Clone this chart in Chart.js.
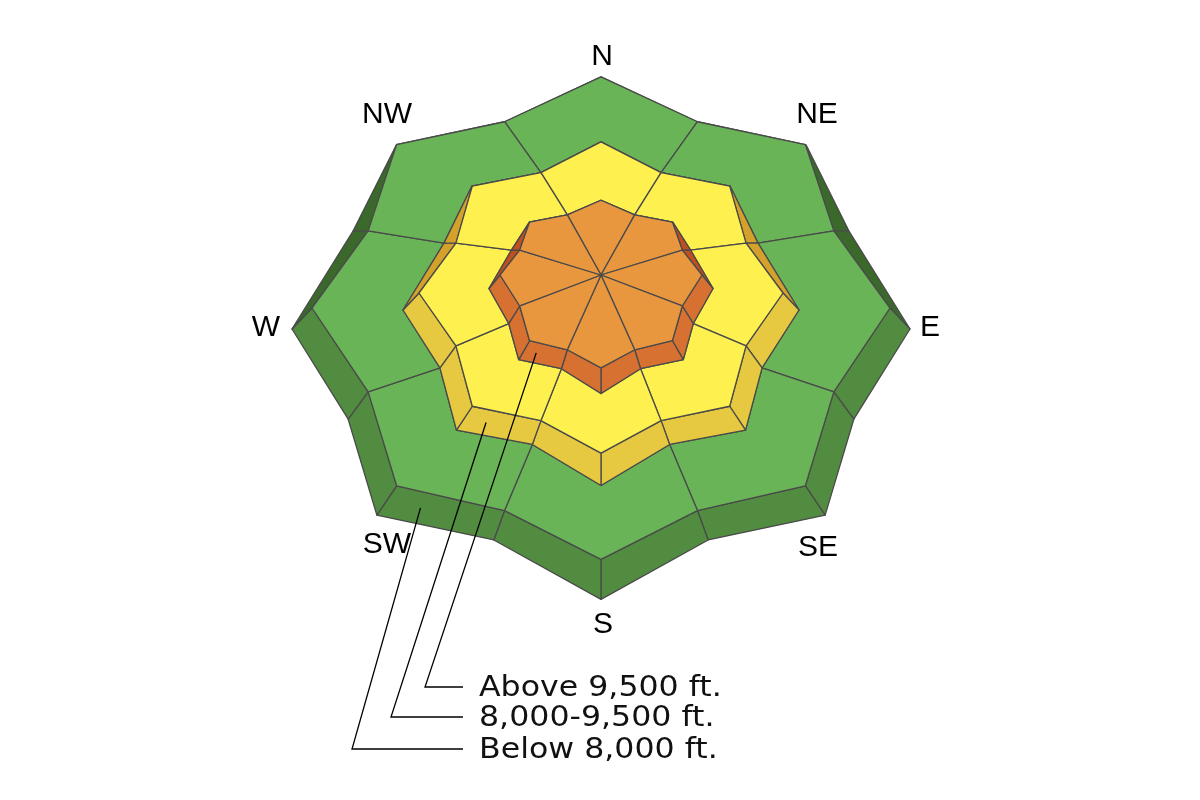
<!DOCTYPE html>
<html>
<head>
<meta charset="utf-8">
<script src="https://cdn.jsdelivr.net/npm/chart.js@4.4.1/dist/chart.umd.min.js"></script>
<style>
  html, body { margin: 0; padding: 0; background: #fff; }
  canvas { display: block; }
</style>
</head>
<body>
<canvas id="rose" width="1200" height="800"></canvas>
<script>
// --- Data ---
const directions = ["N", "NE", "E", "SE", "S", "SW", "W", "NW"];
const bands = ["Below 8,000 ft.", "8,000-9,500 ft.", "Above 9,500 ft."];
const legendOrder = [2, 1, 0]; // callout rows, top to bottom

// --- Look ---
const bandColors = [
  { top: "#69b457", side: "#518c40", dark: "#3a692b" },
  { top: "#fdf04f", side: "#e6c941", dark: "#d4a22b" },
  { top: "#e9973f", side: "#d67131", dark: "#c04f1f" }
];
const edgeColor = "#4a4a4a";

// top face of each band (star: tips R, notches r) and how its wall drops
const layers = [
  { cx: 601, cy: 308, R: 289, r: 252, up: 0.80, down: 0.87, wall: 20, drop: 21 },
  { cx: 601, cy: 293, R: 182, r: 157, up: 0.83, down: 0.88, wall: 16, drop: 17 },
  { cx: 601, cy: 275, R: 101, r: 88,  up: 0.74, down: 0.92, wall: 11, drop: 13.5 }
];

const labelPos = {
  N: [602, 57], NE: [817, 115], E: [930, 328], SE: [818, 548],
  S: [603, 625], SW: [387, 545], W: [266, 328], NW: [387, 115]
};
const callout = { elbowX: [352, 391, 425], rowY: [749, 717, 687], lineEnd: 463, textX: 479 };

const clamp = (v, a, b) => Math.max(a, Math.min(b, v));
const lerp = (p, q, t) => ({ x: p.x + (q.x - p.x) * t, y: p.y + (q.y - p.y) * t });

function topRing(L) {
  const pts = [];
  for (let k = 0; k < 16; k++) {
    const a = k * Math.PI / 8;
    const rho = k % 2 ? L.r : L.R;
    const c = Math.cos(a), s = Math.sin(a);
    pts.push({ x: L.cx + rho * s, y: L.cy - rho * c * (c > 0 ? L.up : L.down) });
  }
  return pts;
}

function baseRing(L, top) {
  return top.map((p, k) => {
    const a = k * Math.PI / 8;
    const c = Math.cos(a), s = Math.sin(a);
    const u = clamp((0.72 - c) / 0.45, 0, 1);
    const dx = L.wall * Math.sign(s) * Math.min(1, 1.4 * Math.abs(s)) * u;
    let dy;
    if (c >= 0) {
      dy = L.drop * clamp(1 - c / 0.383, 0, 1);
    } else {
      const t = (Math.acos(c) * 180 / Math.PI - 90) / 90;
      dy = L.drop * (1 + 0.4 * Math.min(1, 3 * t) + 0.5 * Math.max(0, 4 * t - 3));
    }
    return { x: p.x + dx, y: p.y + dy };
  });
}

function poly(points, color) {
  return {
    data: [...points, points[0]],
    polyFill: color,
    borderColor: edgeColor,
    borderWidth: 1.3,
    borderJoinStyle: "round",
    fill: false,
    pointRadius: 0,
    tension: 0
  };
}

const tops = layers.map(topRing);
const bases = layers.map((L, b) => baseRing(L, tops[b]));

// paint order: first pushed is drawn first
const paint = [];
layers.forEach((L, b) => {
  const top = tops[b], base = bases[b];
  for (let k = 0; k < 16; k++) {
    const n = (k + 1) % 16;
    const mid = (k + 0.5) * Math.PI / 8;
    const col = Math.cos(mid) > 0 ? bandColors[b].dark : bandColors[b].side;
    paint.push(poly([top[k], top[n], base[n], base[k]], col));
  }
  directions.forEach((dir, i) => {
    const k0 = (2 * i + 15) % 16, k1 = 2 * i, k2 = (2 * i + 1) % 16;
    let inner;
    if (b < layers.length - 1) {
      const nb = bases[b + 1];
      inner = [nb[k2], nb[k1], nb[k0]];
    } else {
      inner = [{ x: L.cx, y: L.cy }];
    }
    paint.push(poly([top[k0], top[k1], top[k2], ...inner], bandColors[b].top));
  });
});

// callout leaders, anchored on the SW wall of each band
bands.forEach((name, b) => {
  const top = tops[b], base = bases[b];
  const anchor = lerp(lerp(top[10], top[9], 0.3), lerp(base[10], base[9], 0.3), 0.5);
  paint.push({
    data: [anchor, { x: callout.elbowX[b], y: callout.rowY[b] }, { x: callout.lineEnd, y: callout.rowY[b] }],
    borderColor: "#000",
    borderWidth: 1.3,
    fill: false,
    pointRadius: 0,
    tension: 0
  });
});

const polyFillPlugin = {
  id: "polyFill",
  beforeDatasetDraw(chart, args) {
    const ds = chart.data.datasets[args.index];
    if (!ds.polyFill) return;
    const ctx = chart.ctx;
    const pts = args.meta.data;
    ctx.save();
    ctx.beginPath();
    pts.forEach((p, i) => (i ? ctx.lineTo(p.x, p.y) : ctx.moveTo(p.x, p.y)));
    ctx.closePath();
    ctx.fillStyle = ds.polyFill;
    ctx.fill();
    ctx.restore();
  }
};

const textPlugin = {
  id: "roseText",
  afterDatasetsDraw(chart) {
    const ctx = chart.ctx;
    ctx.save();
    ctx.fillStyle = "#000";
    ctx.textAlign = "center";
    ctx.textBaseline = "middle";
    ctx.font = '30px "Liberation Sans", Arial, sans-serif';
    directions.forEach(d => ctx.fillText(d, labelPos[d][0], labelPos[d][1]));

    // callout text, a little wider than DejaVu's own widths
    ctx.fillStyle = "#111";
    ctx.textAlign = "left";
    ctx.textBaseline = "alphabetic";
    ctx.font = '29px "DejaVu Sans", sans-serif';
    bands.forEach((name, b) => {
      ctx.save();
      ctx.translate(callout.textX, callout.rowY[b] + 9);
      ctx.scale(1.09, 1);
      ctx.fillText(name, 0, 0);
      ctx.restore();
    });
    ctx.restore();
  }
};

new Chart(document.getElementById("rose"), {
  type: "line",
  data: { datasets: paint.slice().reverse() },
  options: {
    responsive: false,
    animation: false,
    events: [],
    layout: { padding: 0 },
    scales: {
      x: { type: "linear", min: 0, max: 1200, display: false },
      y: { type: "linear", min: 0, max: 800, reverse: true, display: false }
    },
    plugins: { legend: { display: false }, tooltip: { enabled: false } }
  },
  plugins: [polyFillPlugin, textPlugin]
});
</script>
</body>
</html>
